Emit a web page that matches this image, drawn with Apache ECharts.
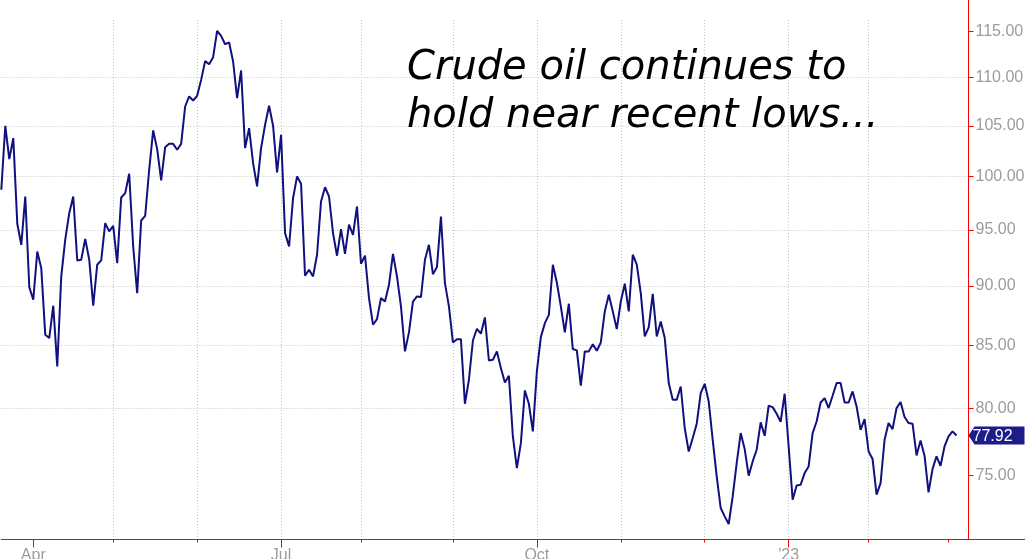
<!DOCTYPE html>
<html>
<head>
<meta charset="utf-8">
<title>Crude oil</title>
<script src="https://cdn.jsdelivr.net/npm/echarts@6/dist/echarts.min.js"></script>
<style>
  html, body { margin: 0; padding: 0; background: #fff; }
  #chart { width: 1025px; height: 559px; }
</style>
</head>
<body>
<div id="chart"></div>
<script>
// daily closes, 2022-03-22 .. 2023-03-03
const prices = [
  98.74, 105.02, 101.70, 103.78, 95.56, 93.64, 98.10, 89.90, 88.81, 93.04,
  91.56, 85.86, 85.59, 88.30, 83.28, 90.83, 94.10, 96.54, 98.10, 92.24,
  92.31, 94.16, 92.31, 88.30, 91.86, 92.24, 95.62, 94.86, 95.37, 92.00,
  98.01, 98.42, 100.27, 93.49, 89.38, 95.86, 96.29, 100.66, 104.55, 102.68,
  99.63, 102.88, 103.21, 103.21, 102.62, 103.21, 106.99, 108.03, 107.61, 108.10,
  109.77, 111.77, 111.44, 112.20, 115.08, 114.53, 113.61, 113.80, 111.73, 107.85,
  110.77, 102.78, 104.78, 101.31, 99.06, 102.78, 105.12, 107.06, 105.02, 100.40,
  104.11, 94.70, 93.49, 97.95, 100.01, 99.31, 90.89, 91.42, 90.83, 92.75,
  97.63, 98.99, 98.10, 94.70, 92.66, 95.07, 92.83, 95.47, 94.55, 97.16,
  91.95, 92.66, 88.95, 86.70, 87.17, 88.95, 88.66, 90.10, 92.83, 90.83,
  88.24, 84.50, 86.06, 88.66, 89.09, 89.04, 92.30, 93.64, 91.03, 91.65,
  96.23, 90.25, 88.24, 85.23, 85.50, 85.50, 80.34, 82.22, 85.39, 86.36,
  85.95, 87.31, 83.76, 83.82, 84.50, 83.15, 82.01, 82.54, 77.85, 75.51,
  77.35, 81.38, 80.34, 78.23, 82.88, 85.67, 86.83, 87.53, 91.86, 90.30,
  88.24, 86.06, 88.47, 84.69, 84.58, 81.75, 84.50, 84.50, 85.09, 84.55,
  85.23, 87.82, 89.24, 87.82, 86.33, 88.66, 90.19, 87.82, 92.75, 91.86,
  89.38, 85.73, 86.50, 89.32, 85.73, 86.97, 85.59, 81.96, 80.65, 80.65,
  81.69, 78.48, 76.73, 77.73, 78.81, 81.17, 81.90, 80.52, 77.60, 74.91,
  72.66, 72.08, 71.55, 73.48, 75.88, 78.10, 76.91, 74.96, 76.00, 76.86,
  78.91, 77.90, 80.19, 80.08, 79.57, 78.96, 81.12, 77.10, 73.24, 74.26,
  74.31, 75.15, 75.63, 78.10, 78.98, 80.44, 80.78, 80.01, 80.96, 81.96,
  81.96, 80.44, 80.44, 81.30, 80.13, 78.35, 79.16, 76.73, 76.17, 73.60,
  74.43, 77.60, 78.86, 78.40, 80.01, 80.47, 79.32, 78.86, 78.81, 76.44,
  77.55, 76.42, 73.76, 75.44, 76.37, 75.68, 77.10, 77.85, 78.23, 77.92
];

const yTicks = [75, 80, 85, 90, 95, 100, 105, 110, 115];
const quarterLabels = { '04': 'Apr', '07': 'Jul', '10': 'Oct', '01': "'23" };
const holidays = ['2022-04-15', '2022-05-30', '2022-06-20', '2022-07-04', '2022-09-05',
  '2022-11-24', '2022-12-26', '2023-01-02', '2023-01-16'];
const annotation = ['Crude oil continues to', 'hold near recent lows...'];

const RED = '#ff0000';
const GRID = '#c2c2c2';
const LABEL = '#9c9c9c';
const NAVY = '#10107e';
const FONT = 'Liberation Sans, Arial, sans-serif';

// trading-day categories (3 empty days after the last close keep the gap to the axis)
function tradingDays(start, count) {
  const out = [];
  const d = new Date(start + 'T00:00:00Z');
  while (out.length < count) {
    const s = d.toISOString().slice(0, 10);
    const wd = d.getUTCDay();
    if (wd !== 0 && wd !== 6 && holidays.indexOf(s) < 0) out.push(s);
    d.setUTCDate(d.getUTCDate() + 1);
  }
  return out;
}
const categories = tradingDays('2022-03-22', prices.length + 3);

function monthStart(i) {
  return i > 0 && categories[i].slice(0, 7) !== categories[i - 1].slice(0, 7);
}
function quarterStart(i) {
  return monthStart(i) && quarterLabels[categories[i].slice(5, 7)] !== undefined;
}

const chart = echarts.init(document.getElementById('chart'));
const lastIdx = prices.length - 1;

chart.setOption({
  animation: false,
  title: {
    text: annotation.join('\n'),
    left: 407,
    top: 45,
    padding: 0,
    textStyle: {
      fontFamily: 'DejaVu Sans',
      fontStyle: 'italic',
      fontWeight: 'normal',
      fontSize: 40,
      lineHeight: 48,
      color: '#000'
    }
  },
  // axis lines sit on pixel centres (539.5 / 968.5) so the end pieces stay crisp;
  // labels are allowed to run off the bottom edge like in the original
  grid: { left: 1.3, right: 56.5, top: 20, bottom: 19.5, outerBoundsMode: 'none' },
  xAxis: [
    {
      type: 'category',
      data: categories,
      boundaryGap: false,
      axisLine: {
        lineStyle: { color: RED, width: 1 },
        symbol: ['none', 'rect'],
        symbolSize: [1, 116]
      },
      axisTick: { length: 3, interval: monthStart, lineStyle: { color: RED } },
      axisLabel: { show: false },
      splitLine: {
        show: true,
        interval: monthStart,
        showMinLine: false,
        showMaxLine: false,
        lineStyle: { color: GRID, type: [1, 2] }
      }
    },
    {
      type: 'category',
      data: categories,
      boundaryGap: false,
      position: 'bottom',
      axisLine: { show: false },
      axisTick: { length: 8, interval: quarterStart, lineStyle: { color: RED } },
      axisLabel: {
        interval: quarterStart,
        margin: 8,
        color: LABEL,
        fontFamily: FONT,
        fontSize: 16,
        formatter: (v) => quarterLabels[v.slice(5, 7)]
      },
      splitLine: { show: false }
    }
  ],
  yAxis: {
    type: 'log',
    position: 'right',
    min: 70.49,
    max: 116.29,
    axisLine: {
      show: true,
      lineStyle: { color: RED, width: 1 },
      symbol: ['none', 'rect'],
      symbolSize: [1, 40]
    },
    axisTick: { show: true, length: 5, customValues: yTicks, lineStyle: { color: RED } },
    axisLabel: {
      customValues: yTicks,
      margin: 7,
      color: LABEL,
      fontFamily: FONT,
      fontSize: 16,
      formatter: (v) => Number(v).toFixed(2)
    },
    splitLine: {
      show: true,
      showMinLine: false,
      showMaxLine: false,
      lineStyle: { color: GRID, type: [1, 2] }
    }
  },
  series: [
    {
      type: 'line',
      data: prices,
      symbol: 'none',
      silent: true,
      lineStyle: { color: NAVY, width: 2 },
      markPoint: {
        silent: true,
        symbol: 'path://M0,9 L6,0 L56,0 L56,18 L6,18 Z',
        symbolSize: [56, 18],
        symbolOffset: [40, 0],
        itemStyle: { color: '#1d1d8a' },
        label: {
          show: true,
          position: 'inside',
          offset: [-4, 1],
          color: '#fff',
          fontFamily: FONT,
          fontSize: 16,
          formatter: (p) => p.value.toFixed(2)
        },
        data: [{ coord: [categories[lastIdx], prices[lastIdx]], value: prices[lastIdx] }]
      }
    }
  ]
});
</script>
</body>
</html>
